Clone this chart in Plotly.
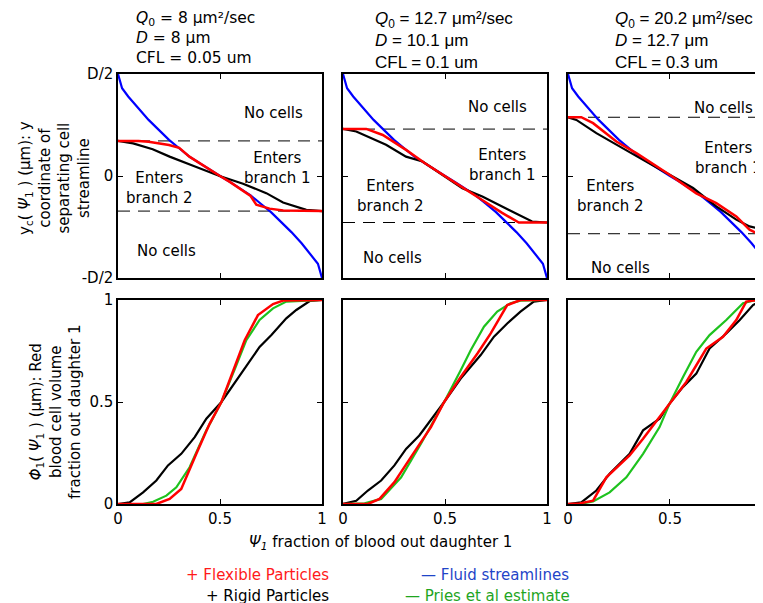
import plotly.graph_objects as go

# ---------------- data ----------------
# Fluid streamlines (blue), y in units of D
PSI_BLUE = [0, 0.02, 0.05, 0.1, 0.15, 0.2, 0.25, 0.3, 0.35, 0.4, 0.45, 0.5,
            0.55, 0.6, 0.65, 0.7, 0.75, 0.8, 0.85, 0.9, 0.95, 0.98, 1.0]
Y_BLUE = [0.5, 0.43, 0.39, 0.33, 0.275, 0.226, 0.177, 0.136, 0.095, 0.063, 0.03, 0.0,
          -0.03, -0.063, -0.095, -0.136, -0.177, -0.226, -0.275, -0.33, -0.39, -0.43, -0.5]

# Top row: separating streamline, flexible (red) and rigid (black)
TOP_RED_PSI = [
    [0, 0.1, 0.15, 0.2, 0.25, 0.3, 0.35, 0.4, 0.45, 0.5, 0.55, 0.6, 0.65, 0.678, 0.743, 0.81, 1.0],
    [0, 0.114, 0.195, 0.309, 0.4, 0.496, 0.58, 0.667, 0.78, 0.862, 1.0],
    [0, 0.065, 0.123, 0.237, 0.335, 0.498, 0.629, 0.727, 0.825, 0.89, 0.923, 0.956],
]
TOP_RED_Y = [
    [0.172, 0.172, 0.168, 0.16, 0.152, 0.138, 0.095, 0.063, 0.03, 0.0, -0.03, -0.063, -0.098, -0.141, -0.16, -0.169, -0.172],
    [0.231, 0.231, 0.201, 0.128, 0.064, 0.0, -0.052, -0.108, -0.181, -0.228, -0.228],
    [0.288, 0.288, 0.259, 0.169, 0.112, 0.006, -0.085, -0.133, -0.198, -0.263, -0.28, -0.28],
]
TOP_BLACK_PSI = [
    [0, 0.074, 0.17, 0.253, 0.368, 0.498, 0.613, 0.727, 0.809, 0.874, 0.923, 1.0],
    [0, 0.065, 0.211, 0.309, 0.39, 0.496, 0.585, 0.683, 0.748, 0.846, 0.927, 1.0],
    [0, 0.041, 0.139, 0.237, 0.368, 0.498, 0.613, 0.727, 0.825, 0.89, 0.94, 0.956],
]
TOP_BLACK_Y = [
    [0.172, 0.16, 0.131, 0.095, 0.05, 0.0, -0.038, -0.084, -0.13, -0.149, -0.166, -0.172],
    [0.231, 0.218, 0.153, 0.095, 0.071, 0.0, -0.06, -0.101, -0.133, -0.181, -0.223, -0.228],
    [0.288, 0.275, 0.21, 0.153, 0.079, 0.006, -0.059, -0.149, -0.214, -0.247, -0.26, -0.263],
]
DASH_LEVELS = [[0.172, -0.172], [0.23, -0.228], [0.288, -0.283]]

# Bottom row: RBC volume fraction
BOT_RED_PSI = [
    [0, 0.188, 0.253, 0.31, 0.384, 0.449, 0.507, 0.564, 0.621, 0.686, 0.76, 0.809, 1.0],
    [0, 0.122, 0.179, 0.252, 0.333, 0.431, 0.496, 0.577, 0.659, 0.724, 0.805, 0.87, 1.0],
    [0, 0.057, 0.123, 0.188, 0.302, 0.368, 0.498, 0.58, 0.678, 0.76, 0.825, 0.874, 0.907, 0.956],
]
BOT_RED_PHI = [
    [0, 0, 0.025, 0.074, 0.246, 0.393, 0.5, 0.656, 0.803, 0.926, 0.98, 0.997, 1.0],
    [0, 0, 0.025, 0.107, 0.23, 0.377, 0.5, 0.623, 0.738, 0.836, 0.975, 1.0, 1.0],
    [0, 0.003, 0.016, 0.131, 0.238, 0.32, 0.492, 0.598, 0.762, 0.82, 0.902, 0.992, 0.997, 1.0],
]
BOT_GREEN_PSI = [
    [0, 0.123, 0.172, 0.237, 0.286, 0.351, 0.433, 0.507, 0.58, 0.629, 0.694, 0.76, 0.825, 1.0],
    [0, 0.106, 0.187, 0.285, 0.382, 0.496, 0.577, 0.626, 0.691, 0.756, 0.821, 0.87, 1.0],
    [0, 0.057, 0.123, 0.204, 0.286, 0.368, 0.449, 0.498, 0.564, 0.629, 0.694, 0.776, 0.858, 0.907, 0.956],
]
BOT_GREEN_PHI = [
    [0, 0, 0.011, 0.041, 0.082, 0.18, 0.361, 0.5, 0.68, 0.803, 0.902, 0.959, 0.992, 1.0],
    [0, 0.003, 0.025, 0.131, 0.295, 0.5, 0.656, 0.754, 0.869, 0.943, 0.984, 0.997, 1.0],
    [0, 0, 0.013, 0.057, 0.131, 0.246, 0.377, 0.492, 0.623, 0.746, 0.828, 0.902, 0.984, 0.997, 1.0],
]
BOT_BLACK_PSI = [
    [0, 0.057, 0.123, 0.188, 0.245, 0.31, 0.376, 0.433, 0.507, 0.564, 0.629, 0.694, 0.752, 0.825, 0.874, 0.94, 1.0],
    [0, 0.065, 0.122, 0.187, 0.252, 0.309, 0.374, 0.431, 0.496, 0.577, 0.675, 0.74, 0.805, 0.87, 0.935, 1.0],
    [0, 0.065, 0.139, 0.204, 0.302, 0.368, 0.449, 0.498, 0.564, 0.629, 0.694, 0.776, 0.842, 0.907, 0.956],
]
BOT_BLACK_PHI = [
    [0, 0.008, 0.057, 0.115, 0.189, 0.246, 0.328, 0.418, 0.5, 0.582, 0.68, 0.77, 0.828, 0.91, 0.951, 0.995, 1.0],
    [0, 0.016, 0.066, 0.115, 0.189, 0.27, 0.336, 0.41, 0.5, 0.615, 0.73, 0.82, 0.885, 0.943, 0.992, 1.0],
    [0, 0.008, 0.066, 0.148, 0.246, 0.361, 0.418, 0.492, 0.574, 0.639, 0.762, 0.836, 0.902, 0.975, 1.0],
]

HEADERS = [
    "<i>Q</i><sub>0</sub> = 8 μm²/sec<br><i>D</i> = 8 μm<br>CFL = 0.05 um",
    "<i>Q</i><sub>0</sub> = 12.7 μm²/sec<br><i>D</i> = 10.1 μm<br>CFL = 0.1 um",
    "<i>Q</i><sub>0</sub> = 20.2 μm²/sec<br><i>D</i> = 12.7 μm<br>CFL = 0.3 um",
]
TOP_YTICKS = [-0.5, 0, 0.5]
TOP_YTICKTEXT = ["-D/2", "0", "D/2"]
BOT_YTICKS = [0, 0.5, 1]
BOT_YTICKTEXT = ["0", "0.5", "1"]
XTICKS = [0, 0.5, 1]
XTICKTEXT = ["0", "0.5", "1"]

REGION_LABELS = ["No cells", "Enters<br>branch 1", "Enters<br>branch 2", "No cells"]
# (x, y, xanchor)
REGION_POS = [
    [(0.76, 0.31, "center"), (0.78, 0.04, "center"), (0.2, -0.06, "center"), (0.24, -0.37, "center")],
    [(0.755, 0.34, "center"), (0.78, 0.054, "center"), (0.23, -0.10, "center"), (0.245, -0.40, "center")],
    [(0.76, 0.333, "center"), (0.615, 0.088, "left"), (0.206, -0.10, "center"), (0.255, -0.45, "center")],
]

# ---------------- layout helpers ----------------
# page window is 763x603; the page body has an 8px margin, so the figure is 755x595
PAGE_OFF = 8
W, H = 763 - PAGE_OFF, 603 - PAGE_OFF
def fx(px):
    return (px - PAGE_OFF) / W
def fy(py):
    return 1 - (py - PAGE_OFF) / H

X_DOM_PX = [(118, 322), (343, 547), (568, 763)]
X_MAX = [1.0, 1.0, 0.956]
TOP_DOM_PX = (74, 278)
BOT_DOM_PX = (300, 504)

BLUE = "#0000ff"
RED = "#ff0000"
BLACK = "#000000"
GREEN = "#1ec21e"
FONT = "DejaVu Sans"

fig = go.Figure()

for i in range(3):
    xt = "x" if i == 0 else f"x{i+1}"
    yt = "y" if i == 0 else f"y{i+1}"
    xb = f"x{i+4}"
    yb = f"y{i+4}"
    for lv in DASH_LEVELS[i]:
        fig.add_trace(go.Scatter(x=[0, X_MAX[i]], y=[lv, lv], mode="lines",
                                 line=dict(color="black", width=1, dash="12px,8px"),
                                 xaxis=xt, yaxis=yt, showlegend=False, hoverinfo="skip"))
    fig.add_trace(go.Scatter(x=PSI_BLUE, y=Y_BLUE, mode="lines",
                             line=dict(color=BLUE, width=2.2), xaxis=xt, yaxis=yt, showlegend=False))
    fig.add_trace(go.Scatter(x=TOP_BLACK_PSI[i], y=TOP_BLACK_Y[i], mode="lines",
                             line=dict(color=BLACK, width=2.2), xaxis=xt, yaxis=yt, showlegend=False))
    fig.add_trace(go.Scatter(x=TOP_RED_PSI[i], y=TOP_RED_Y[i], mode="lines",
                             line=dict(color=RED, width=2.5), xaxis=xt, yaxis=yt, showlegend=False))
    fig.add_trace(go.Scatter(x=BOT_BLACK_PSI[i], y=BOT_BLACK_PHI[i], mode="lines",
                             line=dict(color=BLACK, width=2.2), xaxis=xb, yaxis=yb, showlegend=False))
    fig.add_trace(go.Scatter(x=BOT_GREEN_PSI[i], y=BOT_GREEN_PHI[i], mode="lines",
                             line=dict(color=GREEN, width=2.2), xaxis=xb, yaxis=yb, showlegend=False))
    fig.add_trace(go.Scatter(x=BOT_RED_PSI[i], y=BOT_RED_PHI[i], mode="lines",
                             line=dict(color=RED, width=2.5), xaxis=xb, yaxis=yb, showlegend=False))

    axcommon = dict(showgrid=False, zeroline=False, showline=True, linecolor="black", linewidth=1.5,
                    ticks="inside", ticklen=5, tickcolor="black", automargin=False,
                    tickfont=dict(family=FONT, size=15, color="black"))
    xdom = [fx(X_DOM_PX[i][0]), min(1.0, fx(X_DOM_PX[i][1]))]
    mir_y = "ticks" if i < 2 else False
    fig.layout[("xaxis" if i == 0 else f"xaxis{i+1}")] = dict(
        domain=xdom, range=[0, X_MAX[i]], anchor=yt, mirror="ticks",
        tickvals=XTICKS, ticktext=XTICKTEXT, showticklabels=False, **axcommon)
    fig.layout[("yaxis" if i == 0 else f"yaxis{i+1}")] = dict(
        domain=[fy(TOP_DOM_PX[1]), fy(TOP_DOM_PX[0])], range=[-0.5, 0.5], anchor=xt, mirror=mir_y,
        tickvals=TOP_YTICKS, ticktext=TOP_YTICKTEXT, showticklabels=(i == 0), **axcommon)
    fig.layout[f"xaxis{i+4}"] = dict(
        domain=xdom, range=[0, X_MAX[i]], anchor=yb, mirror="ticks",
        tickvals=XTICKS, ticktext=XTICKTEXT, showticklabels=True, **axcommon)
    fig.layout[f"yaxis{i+4}"] = dict(
        domain=[fy(BOT_DOM_PX[1]), fy(BOT_DOM_PX[0])], range=[0, 1], anchor=xb, mirror=mir_y,
        tickvals=BOT_YTICKS, ticktext=BOT_YTICKTEXT, showticklabels=(i == 0), **axcommon)

    for lab, (ax_, ay_, xa) in zip(REGION_LABELS, REGION_POS[i]):
        fig.add_annotation(x=ax_, y=ay_, xref=xt, yref=yt, text=lab, showarrow=False,
                           xanchor=xa, yanchor="middle",
                           font=dict(family=FONT, size=15, color="black"), align="center")

# headers
HEADER_X_PX = [134, 373, 613]
HEADER_FONTS = [("DejaVu Sans", 15.5), ("Liberation Sans", 17), ("Liberation Sans", 17)]
for i in range(3):
    fig.add_annotation(x=fx(HEADER_X_PX[i]), y=fy(7), xref="paper", yref="paper",
                       xanchor="left", yanchor="top", align="left", showarrow=False,
                       text=HEADERS[i],
                       font=dict(family=HEADER_FONTS[i][0], size=HEADER_FONTS[i][1], color="black"))

# axis titles
fig.add_annotation(x=fx(54), y=fy(178), xref="paper", yref="paper", textangle=-90,
                   xanchor="center", yanchor="middle", showarrow=False, align="center",
                   text="y<sub>c</sub>( <i>Ψ</i><sub>1</sub> ) (μm): y<br>coordinate of<br>separating cell<br>streamline",
                   font=dict(family=FONT, size=15, color="black"))
fig.add_annotation(x=fx(55), y=fy(412), xref="paper", yref="paper", textangle=-90,
                   xanchor="center", yanchor="middle", showarrow=False, align="center",
                   text="<i>Φ</i><sub>1</sub>( <i>Ψ</i><sub>1</sub> ) (μm): Red<br>blood cell volume<br>fraction out daughter 1",
                   font=dict(family=FONT, size=15, color="black"))
fig.add_annotation(x=fx(380), y=fy(542), xref="paper", yref="paper", showarrow=False,
                   xanchor="center", yanchor="middle",
                   text="<i>Ψ<sub>1</sub></i> fraction of blood out daughter 1",
                   font=dict(family=FONT, size=15, color="black"))

# legend (text)
LEGEND = [
    ("+ Flexible Particles", "#ff1a1a", 331, 575),
    ("+ Rigid Particles", "#000000", 331, 596),
    ("— Fluid streamlines", "#1f45c8", 571, 575),
    ("— Pries et al estimate", "#1fa51f", 572, 596),
]
for txt, col, xr, yc in LEGEND:
    fig.add_annotation(x=fx(xr), y=fy(yc), xref="paper", yref="paper", xanchor="right",
                       yanchor="middle", showarrow=False, text=txt,
                       font=dict(family=FONT, size=15, color=col))

fig.update_layout(width=W, height=H, margin=dict(l=0, r=0, t=0, b=0, autoexpand=False),
                  plot_bgcolor="white", paper_bgcolor="white", showlegend=False)

fig.write_html("out.html")
